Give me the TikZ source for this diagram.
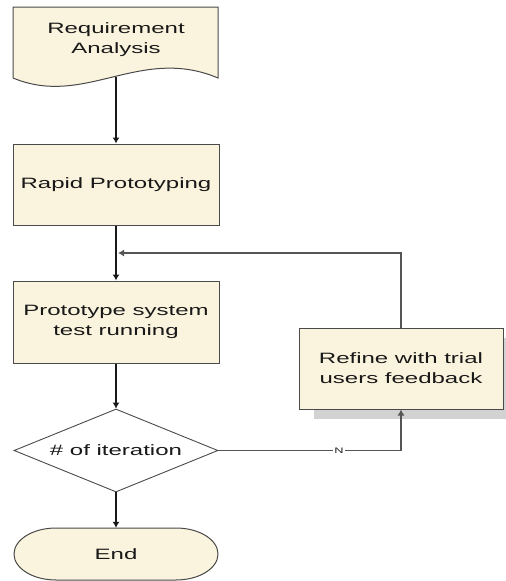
\documentclass[tikz,border=0pt]{standalone}
\usepackage{fontspec}
\setmainfont[FakeStretch=1.6]{Liberation Sans}
\usetikzlibrary{shapes.geometric,arrows.meta}
\definecolor{boxfill}{HTML}{FAF3DD}
\definecolor{edgecol}{HTML}{4A4A4A}
\definecolor{loopcol}{HTML}{555555}
\definecolor{shadecol}{HTML}{D2D2D2}
\begin{document}
\begin{tikzpicture}[x=1pt,y=1pt,
  txt/.style={font=\fontsize{15}{20}\selectfont, align=center, text=black!90},
  outline/.style={draw=edgecol, fill=boxfill, line width=1pt},
  proc/.style={outline, inner sep=0pt, minimum width=206pt, minimum height=81pt, txt},
  decision/.style={diamond, draw=edgecol, fill=white, line width=0.9pt, aspect=2.46,
    minimum width=204pt, minimum height=83pt, inner sep=0pt, txt},
  conn/.style={draw=black!90, line width=1.1pt, -{Latex[length=6pt,width=7pt]}},
  loopconn/.style={conn, draw=loopcol},
  flag/.style={fill=white, inner sep=1.5pt, font=\fontsize{8}{9}\selectfont, text=black!85}
]
\useasboundingbox (0,0) rectangle (506,-581);

% document-shaped start box with a wavy lower edge
\draw[outline] (13,-7) -- (218,-7) -- (218,-78)
  .. controls (140,-45) and (85,-108) .. (13,-78) -- cycle;
\node[txt] (req) at (116,-40) {Requirement\\Analysis};
\coordinate (reqb) at (116,-77);

% process boxes
\node[proc] (rapid) at (116,-184.5) {Rapid Prototyping};
\node[proc, minimum height=82pt] (proto) at (116,-322) {Prototype system\\test running};

% refinement box with its shadow
\fill[shadecol] (314,-338) rectangle (506,-419);
\node[proc, minimum width=204pt] (refine) at (401,-368.5) {Refine with trial\\users feedback};

% decision
\node[decision] (iter) at (116,-450.5) {\# of iteration};

% terminator with elliptical ends
\draw[outline] (56,-528) -- (176,-528)
  arc[start angle=90, end angle=-90, x radius=42, y radius=26] -- (56,-580)
  arc[start angle=270, end angle=90, x radius=42, y radius=26] -- cycle;
\node[txt, minimum width=204pt, minimum height=52pt, inner sep=0pt] (endn) at (116,-554) {End};

% connectors
\coordinate (join) at (118,-253);
\draw[conn] (reqb) -- (rapid.north);
\draw[conn] (rapid) -- (proto);
\draw[conn] (proto) -- (iter);
\draw[conn] (iter) -- (endn);
\draw[loopconn] (iter.east) -| node[flag, pos=0.33] {N} (refine.south);
\draw[loopconn] (refine.north) |- (join);
\end{tikzpicture}
\end{document}
